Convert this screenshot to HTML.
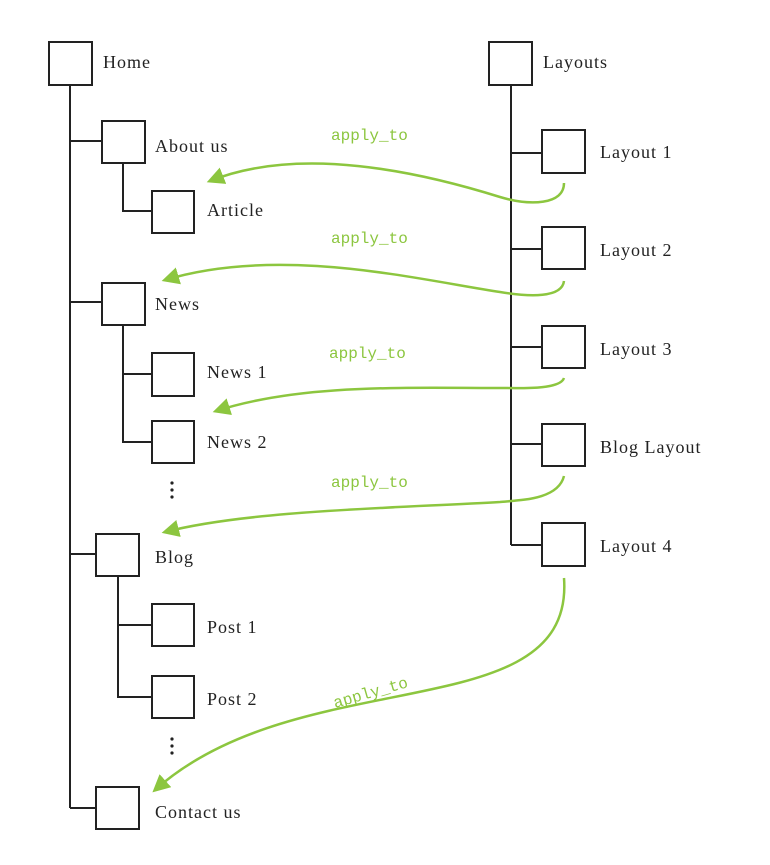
<!DOCTYPE html>
<html><head><meta charset="utf-8"><style>
html,body{margin:0;padding:0;background:#fff;}
svg{display:block}
text{font-family:"Liberation Serif",serif;font-size:18px;fill:#222;letter-spacing:1px}
.g{font-family:"Liberation Mono",monospace;font-size:16px;fill:#8cc63f;letter-spacing:0}
</style></head><body>
<svg width="770" height="865" viewBox="0 0 770 865" xmlns="http://www.w3.org/2000/svg">
<defs><marker id="a" viewBox="0 0 10 10" refX="8" refY="5" markerWidth="7" markerHeight="7" orient="auto-start-reverse"><path d="M0,0L10,5L0,10z" fill="#8cc63f"/></marker></defs>
<g stroke="#222" stroke-width="2" fill="#fff">
<line x1="70" y1="85" x2="70" y2="808"/>
<line x1="70" y1="141" x2="102" y2="141"/>
<line x1="70" y1="302" x2="102" y2="302"/>
<line x1="70" y1="554" x2="96" y2="554"/>
<line x1="70" y1="808" x2="96" y2="808"/>
<polyline points="123,163 123,211 152,211" fill="none"/>
<polyline points="123,325 123,442 152,442" fill="none"/>
<line x1="123" y1="374" x2="152" y2="374"/>
<polyline points="118,576 118,697 152,697" fill="none"/>
<line x1="118" y1="625" x2="152" y2="625"/>
<line x1="511" y1="85" x2="511" y2="545"/>
<line x1="511" y1="153" x2="542" y2="153"/>
<line x1="511" y1="249" x2="542" y2="249"/>
<line x1="511" y1="347" x2="542" y2="347"/>
<line x1="511" y1="444" x2="542" y2="444"/>
<line x1="511" y1="545" x2="542" y2="545"/>
<rect x="49" y="42" width="43" height="43"/>
<rect x="102" y="121" width="43" height="42"/>
<rect x="152" y="191" width="42" height="42"/>
<rect x="102" y="283" width="43" height="42"/>
<rect x="152" y="353" width="42" height="43"/>
<rect x="152" y="421" width="42" height="42"/>
<rect x="96" y="534" width="43" height="42"/>
<rect x="152" y="604" width="42" height="42"/>
<rect x="152" y="676" width="42" height="42"/>
<rect x="96" y="787" width="43" height="42"/>
<rect x="489" y="42" width="43" height="43"/>
<rect x="542" y="130" width="43" height="43"/>
<rect x="542" y="227" width="43" height="42"/>
<rect x="542" y="326" width="43" height="42"/>
<rect x="542" y="424" width="43" height="42"/>
<rect x="542" y="523" width="43" height="43"/>
</g>
<g fill="#222">
<circle cx="172" cy="483" r="1.6"/><circle cx="172" cy="490" r="1.6"/><circle cx="172" cy="497" r="1.6"/>
<circle cx="172" cy="739" r="1.6"/><circle cx="172" cy="746" r="1.6"/><circle cx="172" cy="753" r="1.6"/>
</g>
<text x="103" y="68">Home</text>
<text x="155" y="152">About us</text>
<text x="207" y="216">Article</text>
<text x="155" y="310">News</text>
<text x="207" y="378">News 1</text>
<text x="207" y="448">News 2</text>
<text x="155" y="563">Blog</text>
<text x="207" y="633">Post 1</text>
<text x="207" y="705">Post 2</text>
<text x="155" y="818">Contact us</text>
<text x="543" y="68">Layouts</text>
<text x="600" y="158">Layout 1</text>
<text x="600" y="256">Layout 2</text>
<text x="600" y="355">Layout 3</text>
<text x="600" y="453">Blog Layout</text>
<text x="600" y="552">Layout 4</text>
<g fill="none" stroke="#8cc63f" stroke-width="2.5">
<path d="M564,183 C564,205 530,206 500,197 C420,172 300,145 210,181" marker-end="url(#a)"/>
<path d="M564,281 C562,298 530,297 500,292 C420,280 280,245 165,280" marker-end="url(#a)"/>
<path d="M564,378 C560,390 520,388 500,388 C400,388 300,384 216,411" marker-end="url(#a)"/>
<path d="M564,476 C558,500 520,500 500,502 C400,508 250,510 165,532" marker-end="url(#a)"/>
<path d="M564,578 C575,730 300,660 155,790" marker-end="url(#a)"/>
</g>
<text class="g" x="331" y="140">apply_to</text>
<text class="g" x="331" y="243">apply_to</text>
<text class="g" x="329" y="358">apply_to</text>
<text class="g" x="331" y="487">apply_to</text>
<text class="g" x="335" y="708" transform="rotate(-16 335 708)">apply_to</text>
</svg>
</body></html>
